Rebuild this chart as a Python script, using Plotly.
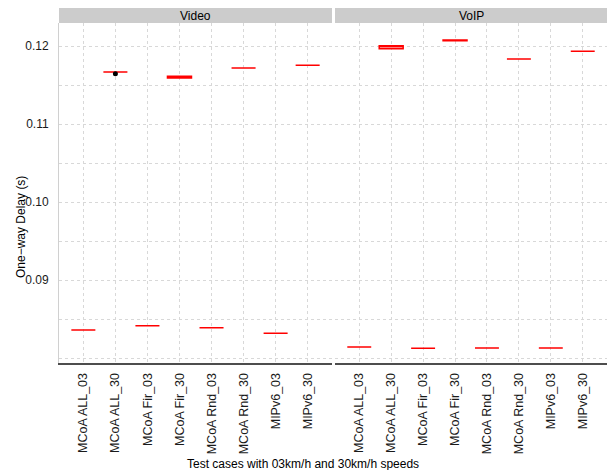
import plotly.graph_objects as go
from plotly.subplots import make_subplots

# Test cases (x categories, same for both panels)
cases = ["MCoA ALL_03", "MCoA ALL_30", "MCoA Fir_03", "MCoA Fir_30",
         "MCoA Rnd_03", "MCoA Rnd_30", "MIPv6_03", "MIPv6_30"]

# Video: one-way delay box statistics (s)
video_q1 = [0.08360, 0.11667, 0.08414, 0.11590, 0.08388, 0.11718, 0.08316, 0.11752]
video_med = [0.08360, 0.11667, 0.08414, 0.11600, 0.08388, 0.11718, 0.08316, 0.11752]
video_q3 = [0.08360, 0.11667, 0.08414, 0.11612, 0.08388, 0.11718, 0.08316, 0.11752]
video_lo = [0.08360, 0.11667, 0.08414, 0.11590, 0.08388, 0.11718, 0.08316, 0.11752]
video_hi = [0.08360, 0.11667, 0.08414, 0.11612, 0.08388, 0.11718, 0.08316, 0.11752]
video_outlier_case = ["MCoA ALL_30"]
video_outlier_val = [0.11645]

# VoIP: one-way delay box statistics (s)
voip_q1 = [0.08141, 0.11964, 0.08124, 0.12067, 0.08128, 0.11833, 0.08128, 0.11932]
voip_med = [0.08141, 0.11998, 0.08124, 0.12072, 0.08128, 0.11833, 0.08128, 0.11932]
voip_q3 = [0.08141, 0.12002, 0.08124, 0.12077, 0.08128, 0.11833, 0.08128, 0.11932]
voip_lo = [0.08141, 0.11964, 0.08124, 0.12058, 0.08128, 0.11833, 0.08128, 0.11932]
voip_hi = [0.08141, 0.12002, 0.08124, 0.12077, 0.08128, 0.11833, 0.08128, 0.11932]

panels = ["Video", "VoIP"]
y_ticks = [0.09, 0.10, 0.11, 0.12]

FONT = "Liberation Sans, Arial, Helvetica, sans-serif"
W, H = 607, 470
ML, MR, MT, MB = 59, 0, 23, 107
PW, PH = W - ML - MR, H - MT - MB
STRIP = 15

fig = make_subplots(rows=1, cols=2, shared_yaxes=True, horizontal_spacing=0.0)

box_style = dict(
    line=dict(color="#FF0000", width=1.5),
    fillcolor="white",
    width=0.75,
    whiskerwidth=0,
    boxpoints=False,
    showlegend=False,
    hoverinfo="skip",
)

fig.add_trace(go.Box(x=cases, q1=video_q1, median=video_med, q3=video_q3,
                     lowerfence=video_lo, upperfence=video_hi, **box_style),
              row=1, col=1)
fig.add_trace(go.Scatter(x=video_outlier_case, y=video_outlier_val, mode="markers",
                         marker=dict(color="black", size=5), showlegend=False),
              row=1, col=1)
fig.add_trace(go.Box(x=cases, q1=voip_q1, median=voip_med, q3=voip_q3,
                     lowerfence=voip_lo, upperfence=voip_hi, **box_style),
              row=1, col=2)

d1 = [0, 273 / PW]
d2 = [276 / PW, 1]

grid = dict(showgrid=True, gridcolor="#D8D8D8", griddash="dot", gridwidth=1)

xcommon = dict(
    type="category", categoryorder="array", categoryarray=cases,
    range=[-0.76, 7.76], tickangle=-90, ticks="", ticklabelstandoff=3,
    tickfont=dict(family=FONT, size=12.5, color="#1a1a1a"),
    showline=True, linecolor="#4D4D4D", linewidth=2, zeroline=False,
    **grid,
)
fig.update_xaxes(domain=d1, **xcommon, row=1, col=1)
fig.update_xaxes(domain=d2, **xcommon, row=1, col=2)

fig.update_yaxes(
    range=[0.07936, 0.12295], tickmode="array", tickvals=y_ticks,
    tickformat=".2f", ticks="", ticklabelstandoff=7,
    tickfont=dict(family=FONT, size=12, color="#1a1a1a"),
    minor=dict(tickmode="linear", tick0=0, dtick=0.005, showgrid=True,
               gridcolor="#D8D8D8", griddash="dot"),
    zeroline=False, **grid,
)
fig.update_yaxes(showline=True, linecolor="#D0D0D0", linewidth=1, row=1, col=1)
fig.update_yaxes(showline=False, showticklabels=False, row=1, col=2)

# Facet strips
for name, dom in zip(panels, [d1, d2]):
    fig.add_shape(type="rect", xref="paper", yref="paper",
                  x0=dom[0], x1=dom[1], y0=1, y1=1 + STRIP / PH,
                  fillcolor="#CCCCCC", line=dict(width=0), layer="below")
    fig.add_annotation(xref="paper", yref="paper", x=(dom[0] + dom[1]) / 2,
                       y=1 + STRIP / 2 / PH, text=name, showarrow=False,
                       xanchor="center", yanchor="middle",
                       font=dict(family=FONT, size=12, color="black"))

# Axis titles
fig.add_annotation(xref="paper", yref="paper", x=(21 - ML) / PW, y=(363 - 227) / PH,
                   text="One\u2212way Delay (s)", textangle=-90, showarrow=False,
                   xanchor="center", yanchor="middle",
                   font=dict(family=FONT, size=12, color="black"))
fig.add_annotation(xref="paper", yref="paper", x=(303 - ML) / PW, y=(363 - 464) / PH,
                   text="Test cases with 03km/h and 30km/h speeds", showarrow=False,
                   xanchor="center", yanchor="middle",
                   font=dict(family=FONT, size=12, color="black"))

fig.update_layout(
    width=W, height=H,
    margin=dict(l=ML, r=MR, t=MT, b=MB, autoexpand=False),
    plot_bgcolor="white", paper_bgcolor="white",
    showlegend=False,
)

fig.write_html("out.html")
